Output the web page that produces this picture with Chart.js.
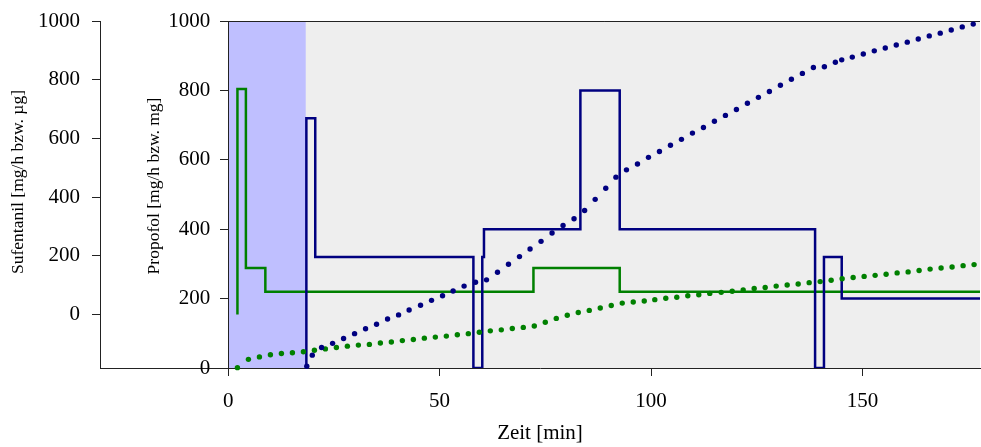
<!DOCTYPE html>
<html>
<head>
<meta charset="utf-8">
<script src="https://cdn.jsdelivr.net/npm/chart.js@4.4.1/dist/chart.umd.min.js"></script>
<style>
  body { margin: 0; background: #fff; }
  #wrap { width: 981px; height: 447px; }
</style>
</head>
<body>
<div id="wrap"><canvas id="infusionChart" width="981" height="447"></canvas></div>
<script>
// time axis [min]
var timeMin = -30.3;
var timeMax = 177.8;
var timeTicks = [0, 50, 100, 150];
var inductionEnd = 18.35;   // end of the shaded induction phase

var sufentanilAxisMin = -182;
var sufentanilAxisMax = 1000;
var sufentanilTicks = [0, 200, 400, 600, 800, 1000];
var propofolAxisMax = 1000;
var propofolTicks = [0, 200, 400, 600, 800, 1000];

// Propofol infusion rate [mg/h], value set at each time
var propofolRateTime = [18.5, 18.5, 20.6, 58.0, 60.1, 60.5, 83.3, 92.6, 138.8, 140.9, 145.1, 177.8];
var propofolRate     = [0, 720, 320, 0, 320, 400, 800, 400, 0, 320, 200, 200];

// Sufentanil infusion rate, value set at each time
var sufentanilRateTime = [2.2, 2.2, 4.2, 8.8, 72.2, 92.6, 177.8];
var sufentanilRate     = [0, 768, 159, 78, 159, 78, 78];

// cumulative Propofol [mg]
var propofolDoseTime = [18.6, 19.9, 22.1, 24.7, 27.3, 29.9, 32.5, 35.1, 37.7, 40.3, 42.8, 45.5, 48.1, 50.7, 53.2,
  55.8, 58.5, 61.1, 63.7, 66.3, 68.9, 71.4, 74.0, 76.6, 79.2, 81.8, 84.3, 86.8, 89.3, 91.7, 94.2, 96.8, 99.4,
  102.0, 104.6, 107.2, 109.8, 112.4, 115.0, 117.6, 120.2, 122.8, 125.4, 128.0, 130.6, 133.2, 135.8, 138.4,
  141.0, 143.6, 145.1, 147.6, 150.2, 152.8, 155.4, 158.0, 160.6, 163.2, 165.8, 168.4, 171.0, 173.6, 176.2];
var propofolDose = [5, 37, 59, 71, 85, 99, 113, 126, 141, 153, 167, 181, 195, 208, 222,
  236, 247, 254, 276, 299, 321, 343, 365, 389, 411, 430, 454, 486, 518, 550, 571, 588, 607,
  624, 642, 659, 677, 693, 711, 728, 745, 763, 780, 797, 815, 832, 849, 866,
  868, 881, 888, 896, 905, 914, 922, 931, 939, 948, 957, 965, 974, 983, 991];

// cumulative Sufentanil [µg]
var sufentanilDoseTime = [2.2, 4.8, 7.4, 10.0, 12.6, 15.2, 17.8, 20.4, 23.0, 25.6, 28.2, 30.8, 33.4, 36.0,
  38.6, 41.2, 43.8, 46.4, 49.0, 51.6, 54.2, 56.8, 59.4, 62.0, 64.6, 67.2, 69.8, 72.4, 75.0, 77.6, 80.2,
  82.8, 85.4, 88.0, 90.6, 93.2, 95.8, 98.4, 100.9, 103.5, 106.1, 108.7, 111.3, 113.9, 116.6, 119.2,
  121.8, 124.4, 127.0, 129.6, 132.2, 134.8, 137.4, 140.0, 142.6, 145.2, 147.8, 150.4, 153.0, 155.6,
  158.2, 160.8, 163.4, 166.0, 168.6, 171.2, 173.8, 176.4];
var sufentanilDose = [1, 25, 32, 38, 42, 44, 47, 51, 55, 59, 63, 66, 68, 72,
  75, 79, 82, 86, 89, 92, 96, 99, 103, 107, 110, 114, 117, 121, 132, 143, 152,
  160, 166, 173, 180, 187, 190, 193, 197, 201, 204, 208, 211, 215, 218, 221,
  225, 229, 232, 236, 239, 242, 246, 249, 253, 257, 261, 264, 267, 270,
  274, 277, 281, 285, 288, 291, 295, 298];

var navy = '#000080';
var green = '#008000';
var axisColor = '#222222';
var serif = "'Liberation Serif', 'Times New Roman', serif";

function points(xs, ys) {
    return xs.map(function (x, i) { return { x: x, y: ys[i] }; });
}

function fixedTicks(values) {
    return function (scale) {
        scale.ticks = values.map(function (v) { return { value: v }; });
    };
}

function plainLabel(value) {
    return String(value);
}

// the plot frame is set by the layout padding, not by label overhang
function noOverhang(scale) {
    scale.paddingTop = 0;
    scale.paddingBottom = 0;
    scale.paddingLeft = 0;
    scale.paddingRight = 0;
}

Chart.defaults.font.family = serif;
Chart.defaults.font.size = 21;
Chart.defaults.color = '#000';

// grey plot field, blue induction phase and the top frame line
var backgroundPlugin = {
    id: 'plotBackground',
    beforeDraw: function (chart) {
        var ctx = chart.ctx;
        var xs = chart.scales.x, yp = chart.scales.yp;
        var left = xs.getPixelForValue(0);
        var right = xs.getPixelForValue(timeMax);
        var top = yp.getPixelForValue(propofolAxisMax);
        var bottom = yp.getPixelForValue(0);
        var ind = xs.getPixelForValue(inductionEnd);
        ctx.save();
        ctx.fillStyle = '#eeeeee';
        ctx.fillRect(left, top, right - left, bottom - top);
        ctx.fillStyle = '#bfbfff';
        ctx.fillRect(left, top, ind - left, bottom - top);
        ctx.strokeStyle = axisColor;
        ctx.lineWidth = 1;
        ctx.beginPath();
        ctx.moveTo(left, Math.round(top) + 0.5);
        ctx.lineTo(right, Math.round(top) + 0.5);
        ctx.stroke();
        ctx.restore();
    }
};

// tick labels of the Propofol axis (it sits at t = 0 inside the plot)
// and the rotated titles of both y axes
var yLabelsPlugin = {
    id: 'yLabels',
    afterDraw: function (chart) {
        var ctx = chart.ctx;
        var yp = chart.scales.yp;
        var axisX = chart.scales.x.getPixelForValue(0);
        ctx.save();
        ctx.fillStyle = '#000';
        ctx.font = '21px ' + serif;
        ctx.textAlign = 'right';
        ctx.textBaseline = 'middle';
        yp.ticks.forEach(function (t) {
            ctx.fillText(plainLabel(t.value), axisX - 18, yp.getPixelForValue(t.value));
        });

        var titles = [
            { text: 'Sufentanil [mg/h bzw. µg]', x: 18, y: 182 },
            { text: 'Propofol [mg/h bzw. mg]', x: 154, y: 186 }
        ];
        ctx.font = '17.5px ' + serif;
        ctx.textAlign = 'center';
        titles.forEach(function (t) {
            ctx.save();
            ctx.translate(t.x, t.y);
            ctx.rotate(-Math.PI / 2);
            ctx.fillText(t.text, 0, 0);
            ctx.restore();
        });
        ctx.restore();
    }
};

var ctx = document.getElementById('infusionChart').getContext('2d');
new Chart(ctx, {
    type: 'line',
    data: {
        datasets: [
            {
                label: 'Propofol kumulativ',
                data: points(propofolDoseTime, propofolDose),
                yAxisID: 'yp',
                showLine: false,
                pointRadius: 2.7,
                pointBorderWidth: 0,
                pointBackgroundColor: navy,
                clip: false
            },
            {
                label: 'Sufentanil kumulativ',
                data: points(sufentanilDoseTime, sufentanilDose),
                yAxisID: 'yp',
                showLine: false,
                pointRadius: 2.7,
                pointBorderWidth: 0,
                pointBackgroundColor: green,
                clip: false
            },
            {
                label: 'Propofol Rate',
                data: points(propofolRateTime, propofolRate),
                yAxisID: 'yp',
                stepped: 'before',
                borderColor: navy,
                borderWidth: 2.5,
                pointRadius: 0,
                fill: false
            },
            {
                label: 'Sufentanil Rate',
                data: points(sufentanilRateTime, sufentanilRate),
                yAxisID: 'ys',
                stepped: 'before',
                borderColor: green,
                borderWidth: 2.5,
                pointRadius: 0,
                fill: false
            }
        ]
    },
    options: {
        responsive: false,
        animation: false,
        events: [],
        layout: { autoPadding: false, padding: { top: 21, right: 1, left: 0, bottom: 0 } },
        plugins: { legend: { display: false }, tooltip: { enabled: false } },
        scales: {
            x: {
                type: 'linear',
                min: timeMin,
                max: timeMax,
                afterBuildTicks: fixedTicks(timeTicks),
                border: { color: axisColor, width: 1 },
                grid: { drawOnChartArea: false, drawTicks: true, tickLength: 8, tickColor: axisColor },
                ticks: { padding: 13, maxRotation: 0, callback: plainLabel },
                title: { display: true, text: 'Zeit [min]', padding: { top: 0, bottom: 1 } },
                afterFit: function (scale) { noOverhang(scale); scale.height = 79; }
            },
            ys: {
                type: 'linear',
                axis: 'y',
                position: 'left',
                min: sufentanilAxisMin,
                max: sufentanilAxisMax,
                afterBuildTicks: fixedTicks(sufentanilTicks),
                border: { color: axisColor, width: 1 },
                grid: { drawOnChartArea: false, drawTicks: true, tickLength: 8, tickColor: axisColor },
                ticks: { padding: 12, callback: plainLabel },
                afterFit: function (scale) { noOverhang(scale); scale.width = 100; }
            },
            yp: {
                type: 'linear',
                axis: 'y',
                position: { x: 0 },
                min: 0,
                max: propofolAxisMax,
                afterBuildTicks: fixedTicks(propofolTicks),
                border: { color: axisColor, width: 1 },
                grid: { drawOnChartArea: false, drawTicks: true, tickLength: 8, tickColor: axisColor },
                ticks: { display: false },
                afterFit: noOverhang
            }
        }
    },
    plugins: [backgroundPlugin, yLabelsPlugin]
});
</script>
</body>
</html>
